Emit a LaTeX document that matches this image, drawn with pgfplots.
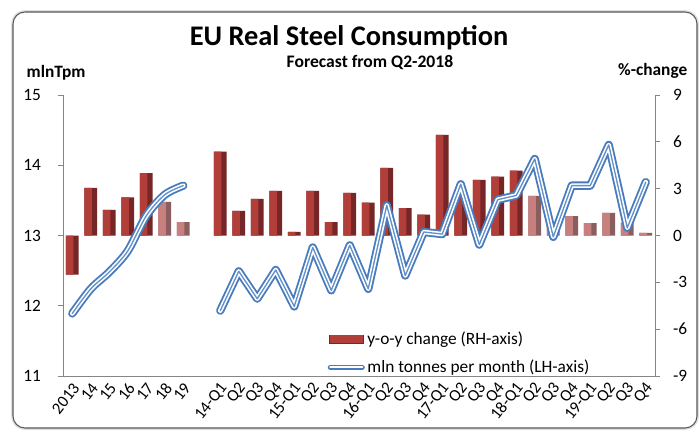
\documentclass[border=0pt]{standalone}
\usepackage{fontspec}
\setmainfont{Carlito}
\usepackage{pgfplots}
\usepackage{pgfplotstable}
\pgfplotsset{compat=1.18}

\definecolor{axisgray}{RGB}{134,134,134}
\definecolor{redlight}{RGB}{178,62,58}
\definecolor{reddark}{RGB}{118,38,38}
\definecolor{fclight}{RGB}{200,128,126}
\definecolor{fcdark}{RGB}{138,94,94}
\definecolor{lineblue}{RGB}{72,124,190}

% x: 0-6 annual, 7 empty, 8-31 quarters
\pgfplotstableread{
x  act   fc
0  -2.5  nan
1  3.05  nan
2  1.64  nan
3  2.45  nan
4  4.00  nan
5  nan   2.15
6  nan   0.85
8  5.37  nan
9  1.58  nan
10 2.35  nan
11 2.86  nan
12 0.24  nan
13 2.86  nan
14 0.85  nan
15 2.73  nan
16 2.11  nan
17 4.33  nan
18 1.75  nan
19 1.34  nan
20 6.44  nan
21 2.45  nan
22 3.56  nan
23 3.77  nan
24 4.16  nan
25 nan   2.54
26 nan   0.80
27 nan   1.24
28 nan   0.79
29 nan   1.45
30 nan   0.83
31 nan   0.17
}\yoy

\pgfplotstableread{
x v
0 11.89
1 12.24
2 12.48
3 12.78
4 13.28
5 13.58
6 13.71
}\annual

\pgfplotstableread{
x  v
8  11.93
9  12.49
10 12.10
11 12.51
12 11.99
13 12.83
14 12.22
15 12.86
16 12.24
17 13.43
18 12.43
19 13.05
20 13.02
21 13.73
22 12.87
23 13.51
24 13.57
25 14.09
26 12.98
27 13.71
28 13.71
29 14.29
30 13.11
31 13.76
}\quarterly

\tikzset{
  steelline/.style={
    preaction={draw=lineblue, line width=6.2pt, line cap=round, line join=round},
    preaction={draw=white, line width=3.4pt, line cap=round, line join=round},
    draw=lineblue!85, line width=1pt, line cap=round, line join=round},
}

\pgfplotsset{
  base/.style={
    scale only axis, width=444pt, height=210.75pt,
    at={(47.25pt,45.75pt)}, anchor=south west,
    xmin=-0.5, xmax=31.5,
    axis line style={draw=axisgray, line width=0.6pt},
    tick style={draw=axisgray, line width=0.6pt},
    tick align=outside, major tick length=4pt,
    tick label style={font=\fontsize{13}{14}\selectfont},
    /pgf/number format/assume math mode=true,
    clip=false,
  },
}

\begin{document}
\begin{tikzpicture}
\path (0,0) rectangle (524.25pt,327.75pt);
\draw[gray!25, line width=3pt, rounded corners=9pt] (9.75pt,6.75pt) rectangle (522.75pt,318.75pt);
\draw[gray!70!black, line width=0.8pt, rounded corners=9pt, fill=white] (9.75pt,6.75pt) rectangle (522.75pt,318.75pt);

\node[font=\fontsize{21.3}{23}\selectfont\bfseries] at (261.75pt,299.5pt) {EU Real Steel Consumption};
\node[font=\fontsize{13.2}{15}\selectfont\bfseries] at (277.5pt,281pt) {Forecast from Q2-2018};
\node[font=\fontsize{13}{14}\selectfont\bfseries, anchor=west] at (16.5pt,273pt) {mlnTpm};
\node[font=\fontsize{13}{14}\selectfont\bfseries, anchor=east] at (519pt,274.5pt) {\%-change};

% bars, right axis
\begin{axis}[base,
  axis y line*=right, axis x line*=bottom,
  ymin=-9, ymax=9, ytick={-9,-6,...,9},
  yticklabel style={anchor=west, xshift=6pt},
  xtick={0,1,2,3,4,5,6,8,9,...,31},
  xticklabels={2013,14,15,16,17,18,19,14-Q1,Q2,Q3,Q4,15-Q1,Q2,Q3,Q4,16-Q1,Q2,Q3,Q4,17-Q1,Q2,Q3,Q4,18-Q1,Q2,Q3,Q4,19-Q1,Q2,Q3,Q4},
  x tick style={draw=none},
  xticklabel style={rotate=52, anchor=east, yshift=-4pt, xshift=3pt, font=\fontsize{12.5}{13}\selectfont},
]
\addplot[ybar, bar width=9.4pt, fill=reddark, draw=none] table[x=x, y=act] {\yoy};
\addplot[ybar, bar width=5.6pt, bar shift=-1.9pt, fill=redlight, draw=none] table[x=x, y=act] {\yoy};
\addplot[ybar, bar width=9.4pt, fill=fcdark, draw=none] table[x=x, y=fc] {\yoy};
\addplot[ybar, bar width=5.6pt, bar shift=-1.9pt, fill=fclight, draw=none] table[x=x, y=fc] {\yoy};
\end{axis}

% line, left axis
\begin{axis}[base,
  axis y line*=left, axis x line=none,
  ymin=11, ymax=15, ytick={11,...,15},
  yticklabel style={anchor=east, xshift=-9pt},
  legend style={at={(0.44,-0.015)}, anchor=south west, draw=none, fill=none,
    font=\fontsize{13}{14}\selectfont, row sep=6pt,
    /tikz/every even column/.append style={column sep=1pt}},
  legend cell align=left,
]
\addlegendimage{legend image code/.code={
  \fill[reddark] (0pt,-3pt) rectangle (26pt,3pt);
  \fill[redlight] (1pt,-2pt) rectangle (25pt,3pt);}}
\addlegendentry{y-o-y change (RH-axis)}
\addlegendimage{legend image code/.code={
  \draw[draw=lineblue, double=white, double distance=1.6pt, line width=1.1pt, line cap=round] (1pt,0pt) -- (25pt,0pt);}}
\addlegendentry{mln tonnes per month (LH-axis)}
\addplot[steelline, smooth, forget plot] table[x=x, y=v] {\annual};
\addplot[steelline, sharp plot, forget plot] table[x=x, y=v] {\quarterly};
\end{axis}
\end{tikzpicture}
\end{document}
